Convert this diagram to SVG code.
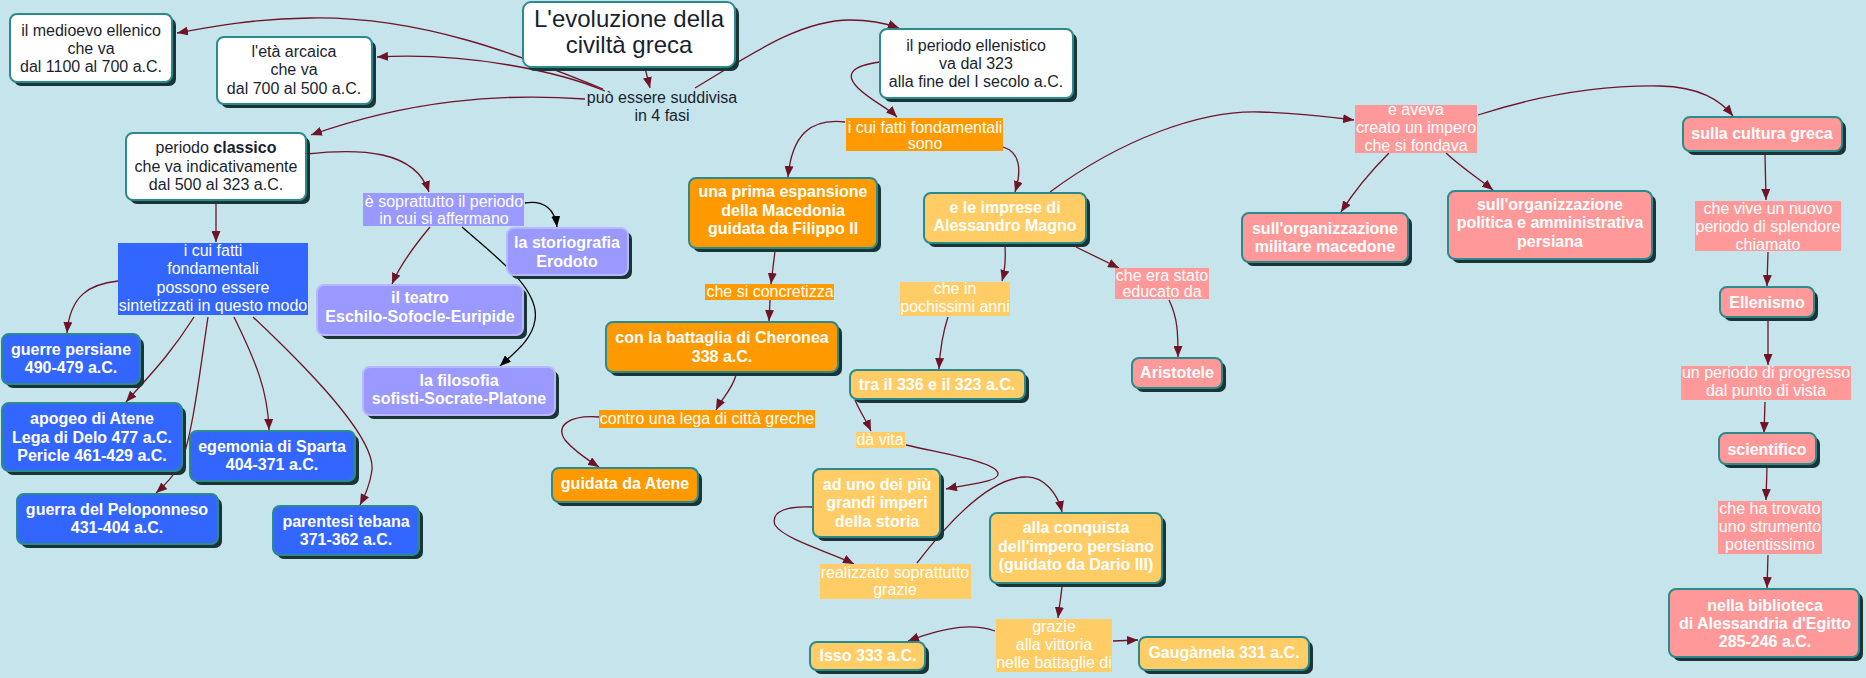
<svg xmlns="http://www.w3.org/2000/svg" width="1866" height="678" viewBox="0 0 1866 678">
<defs>
<style>
text{font-family:"Liberation Sans",Arial,sans-serif;font-size:16px;text-anchor:middle}
.sh{fill:#1b3436}
.nw{fill:#fff;stroke:#2b8a8c;stroke-width:2}
.nb{fill:#3366ff;stroke:#2b8a8c;stroke-width:2}
.no{fill:#ff9900;stroke:#2b8a8c;stroke-width:2}
.nl{fill:#ffcc66;stroke:#2b8a8c;stroke-width:2}
.np{fill:#ff9999;stroke:#2b8a8c;stroke-width:2}
.nv{fill:#9999ff;stroke:#b8b8ff;stroke-width:2}
.td{fill:#1a1f2e}
.tb{fill:#fff;font-weight:bold}
.tl{fill:#fff}
.c{fill:none;stroke:#6e1426;stroke-width:1.3;marker-end:url(#a)}
.ck{fill:none;stroke:#000;stroke-width:1.3;marker-end:url(#ak)}
</style>
<marker id="a" viewBox="0 0 11 9" refX="11" refY="4.5" markerWidth="11" markerHeight="9" markerUnits="userSpaceOnUse" orient="auto"><path d="M0,0 L11,4.5 L0,9 z" fill="#6e1426"/></marker>
<marker id="ak" viewBox="0 0 11 9" refX="11" refY="4.5" markerWidth="11" markerHeight="9" markerUnits="userSpaceOnUse" orient="auto"><path d="M0,0 L11,4.5 L0,9 z" fill="#000"/></marker>
</defs>
<rect width="1866" height="678" fill="#c6e4ec"/>

<g id="connectors">
<path class="c" d="M645,68 L650,88"/>
<path class="c" d="M603,89 C520,55 420,16 310,18 C250,19 210,27 177,33"/>
<path class="c" d="M605,91 C560,72 470,52 377,57"/>
<path class="c" d="M585,99 C500,93 410,100 311,135"/>
<path class="c" d="M695,88 C750,55 800,20 850,20 C870,20 885,23 899,28"/>
<path class="c" d="M880,62 C850,66 845,75 858,88 C870,100 888,108 897,117"/>
<path class="c" d="M845,122 C810,118 792,135 788,177"/>
<path class="c" d="M1003,147 C1020,152 1022,170 1015,192"/>
<path class="c" d="M775,251 L771,284"/>
<path class="c" d="M770,300 L769,321"/>
<path class="c" d="M736,375 C732,390 722,398 716,410"/>
<path class="c" d="M599,417 C570,415 555,425 565,440 C575,452 588,460 599,467"/>
<path class="c" d="M1005,246 C1006,262 1005,270 1002,281"/>
<path class="c" d="M948,317 C942,335 940,350 939,369"/>
<path class="c" d="M1076,247 L1119,268"/>
<path class="c" d="M1169,300 C1178,318 1178,335 1178,357"/>
<path class="c" d="M855,400 C860,412 866,420 871,431"/>
<path class="c" d="M906,445 C950,455 995,462 998,473 C1000,482 970,484 946,489"/>
<path class="c" d="M812,507 C790,506 770,510 775,525 C785,540 830,552 854,564"/>
<path class="c" d="M917,563 C950,520 990,478 1025,477 C1045,476 1058,495 1062,512"/>
<path class="c" d="M1062,587 L1058,618"/>
<path class="c" d="M995,631 C975,624 950,625 908,641"/>
<path class="c" d="M1113,641 L1138,640"/>
<path class="c" d="M1050,192 C1120,140 1200,110 1260,112 C1300,113 1330,117 1354,120"/>
<path class="c" d="M1478,115 C1540,95 1600,85 1660,86 C1700,87 1720,100 1733,116"/>
<path class="c" d="M1389,153 C1370,172 1355,190 1341,212"/>
<path class="c" d="M1446,153 C1462,168 1478,178 1493,190"/>
<path class="c" d="M1765,154 L1766,200"/>
<path class="c" d="M1768,252 L1767,286"/>
<path class="c" d="M1768,320 L1768,365"/>
<path class="c" d="M1765,402 L1764,433"/>
<path class="c" d="M1767,467 L1766,500"/>
<path class="c" d="M1768,555 L1767,588"/>
<path class="c" d="M216,200 L216,242"/>
<path class="c" d="M118,281 C90,284 70,295 67,333"/>
<path class="c" d="M194,317 C170,355 150,375 126,402"/>
<path class="c" d="M208,317 C200,370 192,440 180,465 C172,478 164,486 156,493"/>
<path class="c" d="M234,317 C255,360 268,390 269,430"/>
<path class="c" d="M253,317 C320,380 375,440 372,470 C370,485 365,495 360,505"/>
<path class="c" d="M306,154 C360,148 415,150 429,192"/>
<path class="ck" d="M525,203 C545,200 555,210 557,227"/>
<path class="c" d="M430,227 C415,245 400,265 392,284"/>
<path class="ck" d="M462,227 C500,260 540,290 535,320 C532,340 515,352 500,366"/>
</g>

<g id="title"><rect class="sh" x="527" y="6" width="212" height="65" rx="8"/><rect class="nw" x="523" y="2" width="212" height="65" rx="8"/><text class="td" style="font-size:24px"><tspan x="629" y="27">L'evoluzione della</tspan><tspan x="629" y="53">civiltà greca</tspan></text></g>
<g id="medioevo"><rect class="sh" x="14" y="18" width="162" height="68" rx="7"/><rect class="nw" x="10" y="14" width="162" height="68" rx="7"/><text class="td"><tspan x="91" y="36">il medioevo ellenico</tspan><tspan x="91" y="54">che va</tspan><tspan x="91" y="72">dal 1100 al 700 a.C.</tspan></text></g>
<g id="arcaica"><rect class="sh" x="221" y="41" width="155" height="67" rx="7"/><rect class="nw" x="217" y="37" width="155" height="67" rx="7"/><text class="td"><tspan x="294" y="57">l'età arcaica</tspan><tspan x="294" y="75">che va</tspan><tspan x="294" y="94">dal 700 al 500 a.C.</tspan></text></g>
<g id="classico"><rect class="sh" x="130" y="137" width="180" height="67" rx="7"/><rect class="nw" x="126" y="133" width="180" height="67" rx="7"/><text class="td"><tspan x="216" y="153">periodo <tspan font-weight="bold">classico</tspan></tspan><tspan x="216" y="172">che va indicativamente</tspan><tspan x="216" y="190">dal 500 al 323 a.C.</tspan></text></g>
<g id="ellenistico"><rect class="sh" x="884" y="33" width="193" height="69" rx="7"/><rect class="nw" x="880" y="29" width="193" height="69" rx="7"/><text class="td"><tspan x="976" y="51">il periodo ellenistico</tspan><tspan x="976" y="69">va dal 323</tspan><tspan x="976" y="87">alla fine del I secolo a.C.</tspan></text></g>
<g id="suddivisa"><text class="td"><tspan x="662" y="103">può essere suddivisa</tspan><tspan x="662" y="121">in 4 fasi</tspan></text></g>

<g id="fatti-classico"><rect x="118" y="243" width="190" height="72" fill="#3366ff"/><text class="tl"><tspan x="213" y="256">i cui fatti</tspan><tspan x="213" y="274">fondamentali</tspan><tspan x="213" y="293">possono essere</tspan><tspan x="213" y="311">sintetizzati in questo modo</tspan></text></g>
<g id="persiane"><rect class="sh" x="6" y="338" width="138" height="50" rx="7"/><rect class="nb" x="2" y="334" width="138" height="50" rx="7"/><text class="tb"><tspan x="71" y="355">guerre persiane</tspan><tspan x="71" y="373">490-479 a.C.</tspan></text></g>
<g id="apogeo"><rect class="sh" x="6" y="407" width="180" height="68" rx="7"/><rect class="nb" x="2" y="403" width="180" height="68" rx="7"/><text class="tb"><tspan x="92" y="424">apogeo di Atene</tspan><tspan x="92" y="443">Lega di Delo 477 a.C.</tspan><tspan x="92" y="461">Pericle 461-429 a.C.</tspan></text></g>
<g id="peloponneso"><rect class="sh" x="21" y="498" width="201" height="50" rx="7"/><rect class="nb" x="17" y="494" width="201" height="50" rx="7"/><text class="tb"><tspan x="117" y="515">guerra del Peloponneso</tspan><tspan x="117" y="533">431-404 a.C.</tspan></text></g>
<g id="sparta"><rect class="sh" x="194" y="435" width="165" height="50" rx="7"/><rect class="nb" x="190" y="431" width="165" height="50" rx="7"/><text class="tb"><tspan x="272" y="452">egemonia di Sparta</tspan><tspan x="272" y="470">404-371 a.C.</tspan></text></g>
<g id="tebana"><rect class="sh" x="277" y="510" width="146" height="49" rx="7"/><rect class="nb" x="273" y="506" width="146" height="49" rx="7"/><text class="tb"><tspan x="346" y="527">parentesi tebana</tspan><tspan x="346" y="545">371-362 a.C.</tspan></text></g>

<g id="affermano"><rect x="363" y="193" width="161" height="33" fill="#9999ff"/><text class="tl"><tspan x="444" y="207">è soprattutto il periodo</tspan><tspan x="444" y="224">in cui si affermano</tspan></text></g>
<g id="storiografia"><rect class="sh" x="511" y="232" width="121" height="47" rx="7"/><rect class="nv" x="507" y="228" width="121" height="47" rx="7"/><text class="tb"><tspan x="567" y="248">la storiografia</tspan><tspan x="567" y="267">Erodoto</tspan></text></g>
<g id="teatro"><rect class="sh" x="321" y="289" width="206" height="50" rx="7"/><rect class="nv" x="317" y="285" width="206" height="50" rx="7"/><text class="tb"><tspan x="420" y="303">il teatro</tspan><tspan x="420" y="322">Eschilo-Sofocle-Euripide</tspan></text></g>
<g id="filosofia"><rect class="sh" x="367" y="371" width="192" height="48" rx="7"/><rect class="nv" x="363" y="367" width="192" height="48" rx="7"/><text class="tb"><tspan x="459" y="386">la filosofia</tspan><tspan x="459" y="404">sofisti-Socrate-Platone</tspan></text></g>

<g id="fatti-ellenistico"><rect x="846" y="118" width="157" height="33" fill="#ff9900"/><text class="tl"><tspan x="925" y="133">i cui fatti fondamentali</tspan><tspan x="925" y="149">sono</tspan></text></g>
<g id="espansione"><rect class="sh" x="693" y="182" width="188" height="70" rx="7"/><rect class="no" x="689" y="178" width="188" height="70" rx="7"/><text class="tb"><tspan x="783" y="197">una prima espansione</tspan><tspan x="783" y="216">della Macedonia</tspan><tspan x="783" y="234">guidata da Filippo II</tspan></text></g>
<g id="concretizza"><rect x="705" y="284" width="129" height="16" fill="#ff9900"/><text class="tl"><tspan x="770" y="297">che si concretizza</tspan></text></g>
<g id="cheronea"><rect class="sh" x="610" y="326" width="232" height="50" rx="7"/><rect class="no" x="606" y="322" width="232" height="50" rx="7"/><text class="tb"><tspan x="722" y="343">con la battaglia di Cheronea</tspan><tspan x="722" y="362">338 a.C.</tspan></text></g>
<g id="contro"><rect x="599" y="410" width="216" height="18" fill="#ff9900"/><text class="tl"><tspan x="707" y="424">contro una lega di città greche</tspan></text></g>
<g id="atene"><rect class="sh" x="556" y="472" width="146" height="34" rx="7"/><rect class="no" x="552" y="468" width="146" height="34" rx="7"/><text class="tb"><tspan x="625" y="489">guidata da Atene</tspan></text></g>

<g id="imprese"><rect class="sh" x="928" y="197" width="162" height="50" rx="7"/><rect class="nl" x="924" y="193" width="162" height="50" rx="7"/><text class="tb"><tspan x="1005" y="213">e le imprese di</tspan><tspan x="1005" y="231">Alessandro Magno</tspan></text></g>
<g id="pochissimi"><rect x="900" y="282" width="110" height="34" fill="#ffcc66"/><text class="tl"><tspan x="955" y="294">che in</tspan><tspan x="955" y="312">pochissimi anni</tspan></text></g>
<g id="anni"><rect class="sh" x="854" y="374" width="175" height="29" rx="7"/><rect class="nl" x="850" y="370" width="175" height="29" rx="7"/><text class="tb"><tspan x="937" y="390">tra il 336 e il 323 a.C.</tspan></text></g>
<g id="davita"><rect x="856" y="432" width="49" height="16" fill="#ffcc66"/><text class="tl"><tspan x="880" y="445">dà vita</tspan></text></g>
<g id="imperi"><rect class="sh" x="817" y="473" width="127" height="68" rx="7"/><rect class="nl" x="813" y="469" width="127" height="68" rx="7"/><text class="tb"><tspan x="877" y="490">ad uno dei più</tspan><tspan x="877" y="508">grandi imperi</tspan><tspan x="877" y="527">della storia</tspan></text></g>
<g id="realizzato"><rect x="820" y="564" width="151" height="35" fill="#ffcc66"/><text class="tl"><tspan x="895" y="578">realizzato soprattutto</tspan><tspan x="895" y="595">grazie</tspan></text></g>
<g id="conquista"><rect class="sh" x="994" y="517" width="172" height="70" rx="7"/><rect class="nl" x="990" y="513" width="172" height="70" rx="7"/><text class="tb"><tspan x="1076" y="533">alla conquista</tspan><tspan x="1076" y="552">dell'impero persiano</tspan><tspan x="1076" y="570">(guidato da Dario III)</tspan></text></g>
<g id="vittoria"><rect x="996" y="619" width="116" height="53" fill="#ffcc66"/><text class="tl"><tspan x="1054" y="632">grazie</tspan><tspan x="1054" y="650">alla vittoria</tspan><tspan x="1054" y="668">nelle battaglie di</tspan></text></g>
<g id="isso"><rect class="sh" x="814" y="646" width="115" height="28" rx="7"/><rect class="nl" x="810" y="642" width="115" height="28" rx="7"/><text class="tb"><tspan x="868" y="661">Isso 333 a.C.</tspan></text></g>
<g id="gaugamela"><rect class="sh" x="1143" y="641" width="170" height="33" rx="7"/><rect class="nl" x="1139" y="637" width="170" height="33" rx="7"/><text class="tb"><tspan x="1224" y="658">Gaugàmela 331 a.C.</tspan></text></g>

<g id="educato"><rect x="1115" y="268" width="94" height="31" fill="#ff9999"/><text class="tl"><tspan x="1162" y="281">che era stato</tspan><tspan x="1162" y="297">educato da</tspan></text></g>
<g id="aristotele"><rect class="sh" x="1136" y="362" width="90" height="30" rx="7"/><rect class="np" x="1132" y="358" width="90" height="30" rx="7"/><text class="tb"><tspan x="1177" y="378">Aristotele</tspan></text></g>
<g id="aveva"><rect x="1355" y="105" width="122" height="48" fill="#ff9999"/><text class="tl"><tspan x="1416" y="115">e aveva</tspan><tspan x="1416" y="133">creato un impero</tspan><tspan x="1416" y="151">che si fondava</tspan></text></g>
<g id="militare"><rect class="sh" x="1246" y="217" width="166" height="49" rx="7"/><rect class="np" x="1242" y="213" width="166" height="49" rx="7"/><text class="tb"><tspan x="1325" y="234">sull'organizzazione</tspan><tspan x="1325" y="252">militare macedone</tspan></text></g>
<g id="politica"><rect class="sh" x="1452" y="195" width="204" height="68" rx="7"/><rect class="np" x="1448" y="191" width="204" height="68" rx="7"/><text class="tb"><tspan x="1550" y="210">sull'organizzazione</tspan><tspan x="1550" y="228">politica e amministrativa</tspan><tspan x="1550" y="247">persiana</tspan></text></g>
<g id="cultura"><rect class="sh" x="1687" y="121" width="159" height="34" rx="7"/><rect class="np" x="1683" y="117" width="159" height="34" rx="7"/><text class="tb"><tspan x="1762" y="139">sulla cultura greca</tspan></text></g>
<g id="splendore"><rect x="1695" y="201" width="146" height="50" fill="#ff9999"/><text class="tl"><tspan x="1768" y="214">che vive un nuovo</tspan><tspan x="1768" y="232">periodo di splendore</tspan><tspan x="1768" y="250">chiamato</tspan></text></g>
<g id="ellenismo"><rect class="sh" x="1724" y="291" width="94" height="30" rx="7"/><rect class="np" x="1720" y="287" width="94" height="30" rx="7"/><text class="tb"><tspan x="1767" y="308">Ellenismo</tspan></text></g>
<g id="progresso"><rect x="1681" y="366" width="170" height="34" fill="#ff9999"/><text class="tl"><tspan x="1766" y="378">un periodo di progresso</tspan><tspan x="1766" y="396">dal punto di vista</tspan></text></g>
<g id="scientifico"><rect class="sh" x="1723" y="437" width="97" height="31" rx="7"/><rect class="np" x="1719" y="433" width="97" height="31" rx="7"/><text class="tb"><tspan x="1767" y="455">scientifico</tspan></text></g>
<g id="strumento"><rect x="1718" y="501" width="104" height="53" fill="#ff9999"/><text class="tl"><tspan x="1770" y="514">che ha trovato</tspan><tspan x="1770" y="532">uno strumento</tspan><tspan x="1770" y="550">potentissimo</tspan></text></g>
<g id="biblioteca"><rect class="sh" x="1673" y="593" width="190" height="68" rx="7"/><rect class="np" x="1669" y="589" width="190" height="68" rx="7"/><text class="tb"><tspan x="1765" y="611">nella biblioteca</tspan><tspan x="1765" y="629">di Alessandria d'Egitto</tspan><tspan x="1765" y="647">285-246 a.C.</tspan></text></g>
</svg>
